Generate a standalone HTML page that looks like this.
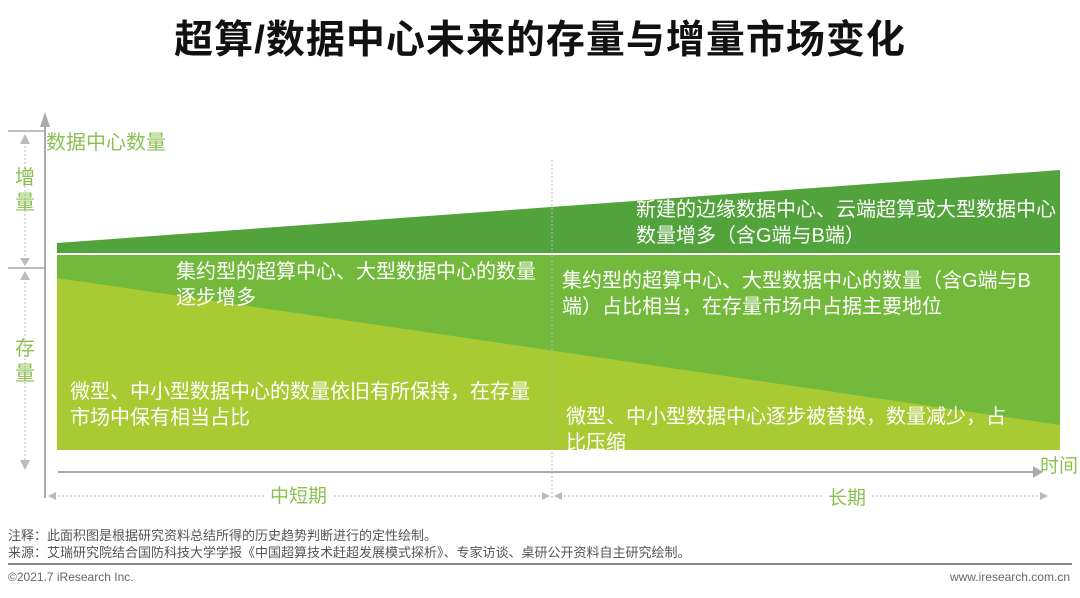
<!DOCTYPE html>
<html><head><meta charset="utf-8"><style>
body{margin:0;width:1080px;height:598px;background:#fff;overflow:hidden;position:relative;font-family:"Liberation Sans","Noto Sans CJK SC",sans-serif}
.t{position:absolute;white-space:nowrap}
</style></head><body>
<div class="t" style="left:0;width:1080px;text-align:center;top:9px;font-size:39px;font-weight:bold;color:#111;letter-spacing:1px">超算/数据中心未来的存量与增量市场变化</div>
<svg width="1080" height="598" style="position:absolute;left:0;top:0">
<polygon points="57,243 1060,170 1060,253 57,253" fill="#52a33c"/>
<rect x="57" y="255" width="1003" height="195" fill="#72b93c"/>
<polygon points="57,278 1060,425 1060,450 57,450" fill="#a8cb33"/>
<line x1="552" y1="160" x2="552" y2="500" stroke="#bbb" stroke-dasharray="2,2"/>
<line x1="45" y1="125" x2="45" y2="498" stroke="#aaa" stroke-width="2"/>
<polygon points="40,127 50,127 45,112" fill="#aaa"/>
<line x1="8" y1="131" x2="45" y2="131" stroke="#aaa" stroke-width="1.5"/>
<line x1="8" y1="268" x2="45" y2="268" stroke="#aaa" stroke-width="1.5"/>
<line x1="25" y1="138" x2="25" y2="262" stroke="#bbb" stroke-dasharray="2,2"/>
<line x1="25" y1="274" x2="25" y2="468" stroke="#bbb" stroke-dasharray="2,2"/>
<polygon points="20,144 30,144 25,134" fill="#bbb"/><polygon points="20,258 30,258 25,266" fill="#bbb"/>
<polygon points="20,280 30,280 25,271" fill="#bbb"/><polygon points="20,460 30,460 25,470" fill="#bbb"/>
<line x1="58" y1="472" x2="1035" y2="472" stroke="#aaa" stroke-width="2"/>
<polygon points="1033,466 1033,478 1043,472" fill="#aaa"/>
<line x1="50" y1="496" x2="548" y2="496" stroke="#bbb" stroke-dasharray="2,2"/>
<line x1="556" y1="496" x2="1046" y2="496" stroke="#bbb" stroke-dasharray="2,2"/>
<polygon points="48,496 56,492 56,500" fill="#bbb"/><polygon points="550,496 542,492 542,500" fill="#bbb"/>
<polygon points="554,496 562,492 562,500" fill="#bbb"/><polygon points="1048,496 1040,492 1040,500" fill="#bbb"/>
<line x1="8" y1="564" x2="1072" y2="564" stroke="#888" stroke-width="2"/>
</svg>
<div class="t" style="left:46px;top:126px;font-size:20px;color:#8cc152">数据中心数量</div>
<div class="t" style="left:15px;top:166px;font-size:20px;line-height:25px;color:#8cc152">增<br>量</div>
<div class="t" style="left:15px;top:337px;font-size:20px;line-height:25px;color:#8cc152">存<br>量</div>
<div class="t" style="left:1040px;top:451px;font-size:19px;color:#8cc152">时间</div>
<div class="t" style="left:264px;top:481px;font-size:19px;color:#8cc152;background:#fff;padding:0 6px">中短期</div>
<div class="t" style="left:822px;top:483px;font-size:19px;color:#8cc152;background:#fff;padding:0 6px">长期</div>
<div class="t" style="left:636px;top:197px;font-size:20px;line-height:26px;color:#fff">新建的边缘数据中心、云端超算或大型数据中心<br>数量增多（含G端与B端）</div>
<div class="t" style="left:176px;top:259px;font-size:20px;line-height:26px;color:#fff">集约型的超算中心、大型数据中心的数量<br>逐步增多</div>
<div class="t" style="left:562px;top:268px;font-size:20px;line-height:26px;color:#fff">集约型的超算中心、大型数据中心的数量（含G端与B<br>端）占比相当，在存量市场中占据主要地位</div>
<div class="t" style="left:70px;top:379px;font-size:20px;line-height:26px;color:#fff">微型、中小型数据中心的数量依旧有所保持，在存量<br>市场中保有相当占比</div>
<div class="t" style="left:566px;top:404px;font-size:20px;line-height:26px;color:#fff">微型、中小型数据中心逐步被替换，数量减少，占<br>比压缩</div>
<div class="t" style="left:8px;top:527px;font-size:13px;line-height:17px;color:#555">注释：此面积图是根据研究资料总结所得的历史趋势判断进行的定性绘制。<br>来源：艾瑞研究院结合国防科技大学学报《中国超算技术赶超发展模式探析》、专家访谈、桌研公开资料自主研究绘制。</div>
<div class="t" style="left:8px;top:570px;font-size:12px;color:#666">©2021.7 iResearch Inc.</div>
<div class="t" style="right:10px;top:570px;font-size:12px;color:#666">www.iresearch.com.cn</div>
</body></html>
